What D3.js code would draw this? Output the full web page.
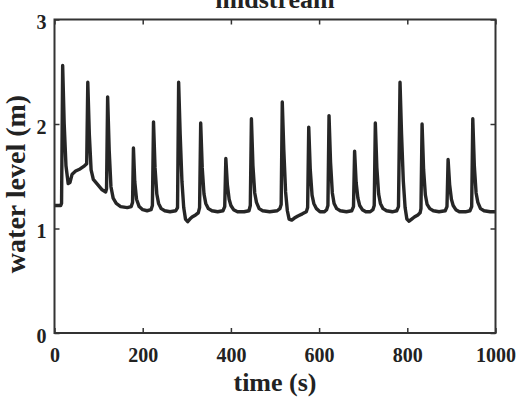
<!DOCTYPE html>
<html>
<head>
<meta charset="utf-8">
<script src="https://cdn.jsdelivr.net/npm/d3@7"></script>
<style>
  html, body { margin: 0; padding: 0; background: #fff; }
  svg { display: block; }
  text { font-family: "Liberation Serif", "Times New Roman", serif; font-weight: bold; fill: #222; }
</style>
</head>
<body>
<svg id="chart" width="524" height="408"></svg>
<script>
// water level, time (s) -> level (m)
const timeS = [
  0, 14, 16, 18.5, 22, 26, 31, 35, 40, 48, 58, 68, 73, 75.5, 79, 83, 88, 98, 108, 116,
  118, 120.5, 124, 128, 133, 140, 150, 165, 174, 177, 179, 182, 186, 192, 200, 210,
  219, 222, 224.5, 228, 232, 236, 242, 250, 262, 275, 279, 281.5, 285, 289, 293, 297,
  302, 307, 312, 320, 326, 329, 331.5, 335, 339, 343, 349, 357, 370, 382, 386, 388.5,
  392, 396, 400, 406, 415, 430, 441, 444, 446.5, 450, 454, 458, 464, 472, 488, 505,
  511, 514, 516.5, 520, 524, 528, 532, 538, 544, 552, 562, 571, 574, 576.5, 580, 584,
  588, 594, 602, 612, 617, 620, 622.5, 626, 630, 634, 640, 648, 662, 674, 678, 680.5,
  684, 688, 692, 698, 706, 716, 722, 725, 727.5, 731, 735, 739, 745, 753, 766, 776,
  780, 783.5, 787, 791, 795, 799, 804, 810, 816, 824, 829, 831, 833.5, 837, 841, 845,
  851, 859, 872, 886, 890, 892.5, 896, 900, 904, 910, 918, 932, 942, 946, 948.5, 952,
  956, 960, 966, 974, 988, 1000
];
const levelM = [
  1.22, 1.22, 1.24, 2.56, 2.00, 1.60, 1.43, 1.44, 1.52, 1.55, 1.57, 1.60, 1.62, 2.40, 1.90, 1.56, 1.47, 1.42, 1.37, 1.35,
  1.38, 2.26, 1.75, 1.40, 1.29, 1.24, 1.21, 1.20, 1.21, 1.25, 1.77, 1.45, 1.28, 1.21, 1.18, 1.17,
  1.18, 1.22, 2.02, 1.58, 1.33, 1.24, 1.19, 1.17, 1.16, 1.17, 1.20, 2.40, 1.90, 1.45, 1.20, 1.09,
  1.065, 1.09, 1.11, 1.13, 1.15, 1.20, 2.01, 1.58, 1.33, 1.24, 1.19, 1.17, 1.16, 1.17, 1.21, 1.67,
  1.42, 1.28, 1.22, 1.18, 1.16, 1.16, 1.17, 1.22, 2.05, 1.60, 1.34, 1.25, 1.19, 1.17, 1.16, 1.17,
  1.19, 1.23, 2.21, 1.75, 1.35, 1.17, 1.09, 1.08, 1.10, 1.12, 1.14, 1.16, 1.20, 1.97, 1.56, 1.32,
  1.24, 1.19, 1.16, 1.16, 1.18, 1.22, 2.08, 1.63, 1.34, 1.24, 1.19, 1.17, 1.16, 1.17, 1.21, 1.74,
  1.44, 1.29, 1.22, 1.18, 1.16, 1.16, 1.18, 1.22, 2.01, 1.58, 1.33, 1.24, 1.19, 1.17, 1.16, 1.17,
  1.21, 2.40, 1.90, 1.45, 1.20, 1.09, 1.07, 1.09, 1.11, 1.13, 1.15, 1.19, 2.00, 1.56, 1.32, 1.23,
  1.19, 1.17, 1.16, 1.17, 1.21, 1.66, 1.42, 1.28, 1.22, 1.18, 1.16, 1.16, 1.17, 1.21, 2.05, 1.60,
  1.34, 1.25, 1.19, 1.17, 1.16, 1.16
];
const xTicks = [0, 200, 400, 600, 800, 1000];
const yTicks = [0, 1, 2, 3];
const chartTitle = "midstream";
const xLabel = "time (s)";
const yLabel = "water level (m)";

const svg = d3.select('#chart');
const margin = { left: 54.5, right: 28.5, top: 19.5, bottom: 75 };
const width = 524 - margin.left - margin.right;
const height = 408 - margin.top - margin.bottom;

const x = d3.scaleLinear().domain([0, 1000]).range([0, width]);
const y = d3.scaleLinear().domain([0, 3]).range([height, 0]);
const fmt = d3.format('d');

const g = svg.append('g')
  .attr('transform', `translate(${margin.left},${margin.top})`);

const data = timeS.map((t, i) => ({ t, v: levelM[i] }));

// Series line
g.append('path')
  .datum(data)
  .attr('fill', 'none')
  .attr('stroke', '#262626')
  .attr('stroke-width', 3.4)
  .attr('stroke-linejoin', 'round')
  .attr('d', d3.line().x(d => x(d.t)).y(d => y(d.v)));

// Axes: ticks point inward on all four sides
const styleAxis = sel => {
  sel.select('.domain').remove();
  sel.selectAll('.tick line').attr('stroke', '#333').attr('stroke-width', 1.5);
};

g.append('g')
  .attr('transform', `translate(0,${height})`)
  .call(d3.axisBottom(x).tickValues(xTicks).tickFormat(fmt).tickSizeInner(-5).tickSizeOuter(0).tickPadding(0))
  .call(styleAxis)
  .call(a => a.selectAll('.tick text')
    .attr('y', 29).attr('dy', null)
    .attr('font-size', 20).attr('font-family', null).attr('fill', '#222'));

g.append('g')
  .call(d3.axisTop(x).tickValues(xTicks).tickSizeInner(-5).tickSizeOuter(0).tickFormat(''))
  .call(styleAxis);

g.append('g')
  .call(d3.axisLeft(y).tickValues(yTicks).tickFormat(fmt).tickSizeInner(-5).tickSizeOuter(0).tickPadding(0))
  .call(styleAxis)
  .call(a => a.selectAll('.tick text')
    .attr('x', -8).attr('dy', 9)
    .attr('font-size', 20).attr('font-family', null).attr('fill', '#222'));

g.append('g')
  .attr('transform', `translate(${width},0)`)
  .call(d3.axisRight(y).tickValues(yTicks).tickSizeInner(-5).tickSizeOuter(0).tickFormat(''))
  .call(styleAxis);

// Box
g.append('rect')
  .attr('width', width)
  .attr('height', height)
  .attr('fill', 'none')
  .attr('stroke', '#333')
  .attr('stroke-width', 2);

// Title (partly clipped at the top, as in the reference)
svg.append('text')
  .attr('x', margin.left + width / 2)
  .attr('y', 7.5)
  .attr('text-anchor', 'middle')
  .attr('font-size', 26)
  .text(chartTitle);

svg.append('text')
  .attr('x', margin.left + width / 2)
  .attr('y', 391)
  .attr('text-anchor', 'middle')
  .attr('font-size', 26)
  .text(xLabel);

svg.append('text')
  .attr('transform', `translate(25,184) rotate(-90)`)
  .attr('text-anchor', 'middle')
  .attr('font-size', 28)
  .text(yLabel);
</script>
</body>
</html>
